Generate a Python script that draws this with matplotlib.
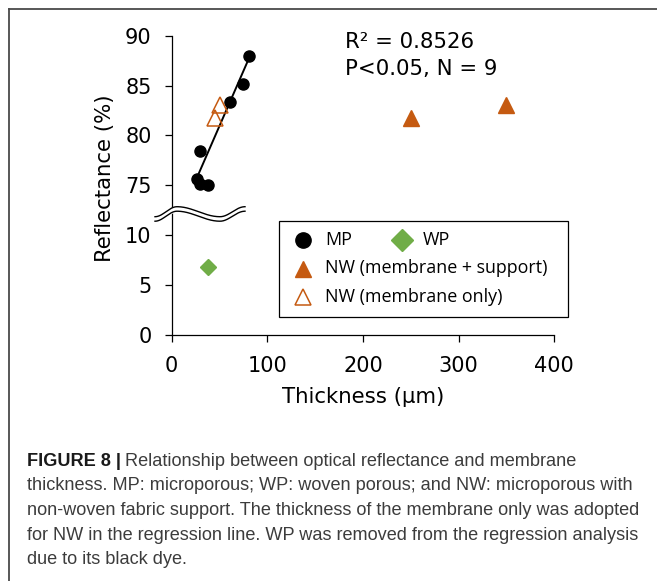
import numpy as np
import matplotlib
matplotlib.use("Agg")
import matplotlib.pyplot as plt
from matplotlib.lines import Line2D
from matplotlib.patches import Rectangle

# data
mp_thick = [26, 30, 38, 30, 61, 75, 81]
mp_refl = [75.6, 75.1, 75.0, 78.4, 83.4, 85.2, 88.0]
wp_thick = [38]
wp_refl = [6.8]
nw_total_thick = [250, 350]
nw_membrane_thick = [45, 50]
nw_refl = [81.8, 83.1]

ytick_vals = [0, 5, 10, 75, 80, 85, 90]
xtick_vals = [0, 100, 200, 300, 400]

W, H = 657, 581
ORANGE = "#C55A11"
GREEN = "#70AD47"


def brk(v):
    # broken y axis: 75-90 is pulled down next to 0-10
    v = np.asarray(v, dtype=float)
    return np.where(v > 40, v - 60, v)


def fx(x):
    return x / W


def fy(y):
    return 1 - y / H


fig = plt.figure(figsize=(W / 100, H / 100), dpi=100)
ax = fig.add_axes([fx(171.7), fy(335), (554.3 - 171.7) / W, (335 - 35.7) / H])

# regression on MP + NW (membrane only)
reg_x = np.array(mp_thick + nw_membrane_thick)
reg_y = np.array(mp_refl + nw_refl)
k, b = np.polyfit(reg_x, reg_y, 1)
xl = np.array([reg_x.min(), reg_x.max()])
ax.plot(xl, brk(k * xl + b), color="black", lw=1.4, zorder=2)

ax.plot(mp_thick, brk(mp_refl), "o", color="black", ms=8, zorder=3)
ax.plot(wp_thick, brk(wp_refl), "D", color=GREEN, ms=8, zorder=3)
ax.plot(nw_total_thick, brk(nw_refl), "^", color=ORANGE, ms=11, zorder=3)
ax.plot(nw_membrane_thick, brk(nw_refl), "^", mfc="none", mec=ORANGE,
        mew=1.1, ms=11, zorder=3)

ax.set_xlim(0, 400)
ax.set_ylim(0, 30)
ax.set_xticks(xtick_vals)
ax.set_yticks(brk(ytick_vals))
ax.set_yticklabels([str(v) for v in ytick_vals])
for s in ["top", "right"]:
    ax.spines[s].set_visible(False)
for s in ["left", "bottom"]:
    ax.spines[s].set_linewidth(0.9)
ax.tick_params(axis="both", direction="out", length=5, width=0.9, labelsize=15)
ax.tick_params(axis="x", pad=10)
ax.tick_params(axis="y", pad=9.5)
ax.set_xlabel("Thickness (μm)", fontsize=15.3)
ax.set_ylabel("Reflectance (%)", fontsize=15.3)
ax.xaxis.set_label_coords(0.5, -0.174)
ax.yaxis.set_label_coords(-0.148, 0.524)

# axis break: two wavy lines
px = np.linspace(155, 245, 200)
phase = np.interp(px, [155, 177, 220, 245], [-np.pi, 0, np.pi, 2 * np.pi])
wy = 211.7 - 5 * np.cos(phase)
dx = (px - 171.7) / 0.9566
up = (335 - wy) / 9.977
lo = (335 - wy - 4.5) / 9.977
ax.fill_between(dx, lo, up, color="white", zorder=4, clip_on=False)
ax.plot(dx, up, color="black", lw=1.0, zorder=5, clip_on=False)
ax.plot(dx, lo, color="black", lw=1.0, zorder=5, clip_on=False)

fig.text(fx(345), fy(48), "R² = 0.8526", fontsize=15.3, va="baseline")
fig.text(fx(345), fy(75), "P<0.05, N = 9", fontsize=15.3, va="baseline")

# legend drawn by hand (first row holds two entries)
fig.add_artist(Rectangle((fx(279.3), fy(317.3)), (567.7 - 279.3) / W, (317.3 - 221) / H,
                         transform=fig.transFigure, fill=False, lw=0.9, ec="black"))
leg_font = dict(family="Open Sans", fontsize=12.9, va="baseline")
fig.add_artist(Line2D([fx(303)], [fy(240)], marker="o", color="black", ms=11,
                      transform=fig.transFigure))
fig.text(fx(325), fy(245), "MP", **leg_font)
fig.add_artist(Line2D([fx(401.7)], [fy(240)], marker="D", color=GREEN, ms=11.5,
                      transform=fig.transFigure))
fig.text(fx(423), fy(245), "WP", **leg_font)
fig.add_artist(Line2D([fx(303)], [fy(269)], marker="^", color=ORANGE, ms=12,
                      transform=fig.transFigure))
fig.text(fx(325), fy(273.3), "NW (membrane + support)", **leg_font)
fig.add_artist(Line2D([fx(303)], [fy(297)], marker="^", mfc="none", mec=ORANGE,
                      mew=1.1, ms=12, transform=fig.transFigure))
fig.text(fx(325), fy(301.7), "NW (membrane only)", **leg_font)

# panel frame (cropped at right and bottom)
fig.add_artist(Line2D([fx(8.5), 1], [fy(8.5), fy(8.5)], color="#4a4a4a", lw=1.3,
                      transform=fig.transFigure))
fig.add_artist(Line2D([fx(8.5), fx(8.5)], [fy(8.5), 0], color="#4a4a4a", lw=1.3,
                      transform=fig.transFigure))

# caption
cap_font = dict(family="Liberation Sans", fontsize=13.1, va="baseline", color="#3c3c3c")
lines = [
    "thickness. MP: microporous; WP: woven porous; and NW: microporous with",
    "non-woven fabric support. The thickness of the membrane only was adopted",
    "for NW in the regression line. WP was removed from the regression analysis",
    "due to its black dye.",
]
base = [466, 490.5, 515, 539.5, 564]
head = fig.text(fx(27), fy(base[0]), "FIGURE 8 |", fontweight="bold",
                **{**cap_font, "color": "#1a1a1a"})
r = fig.canvas.get_renderer()
hw = head.get_window_extent(r).x1
fig.text((hw + 4) / W, fy(base[0]), "Relationship between optical reflectance and membrane",
         **cap_font)
for t, yb in zip(lines, base[1:]):
    fig.text(fx(27), fy(yb), t, **cap_font)

fig.savefig("out.png", dpi=100)
